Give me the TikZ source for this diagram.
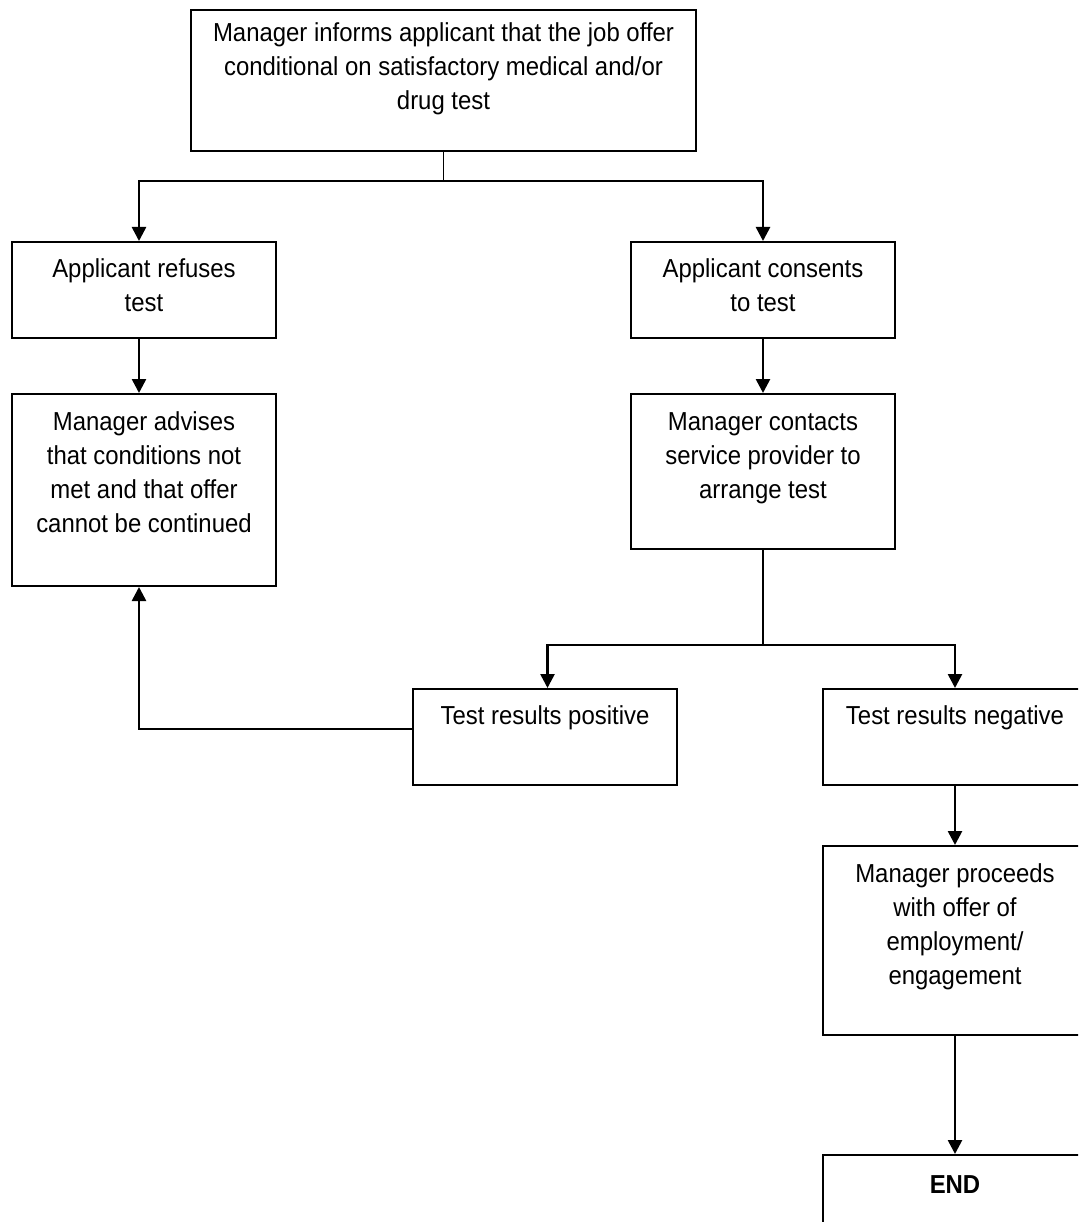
\documentclass[tikz,border=0pt]{standalone}
\usepackage{fontspec}
\setmainfont[FakeStretch=0.92]{Liberation Sans}
\usetikzlibrary{arrows.meta}
\begin{document}
\begin{tikzpicture}[x=1pt,y=-1pt]
\tikzset{
  box/.style={draw, line width=2pt, inner sep=0pt, anchor=north west, minimum width=264pt},
  txt/.style={inner sep=0pt, anchor=base, font=\fontsize{26}{34}\selectfont},
  arr/.style={line width=2.6pt, -{Triangle[length=14pt,width=14pt]}},
  stub/.style={line width=1.5pt},
  hline/.style={line width=2.6pt}
}
\useasboundingbox (0,0) rectangle (1078,1222);
\clip (0,0) rectangle (1078,1222);

% boxes
\node[box, minimum width=505pt, minimum height=141pt] (top) at (190,9) {};
\node[box, minimum height=96pt]  (refuses)  at (11,241) {};
\node[box, minimum height=192pt] (advises)  at (11,393) {};
\node[box, minimum height=96pt]  (consents) at (630,241) {};
\node[box, minimum height=155pt] (contacts) at (630,393) {};
\node[box, minimum height=96pt]  (positive) at (412,688) {};
\node[box, minimum height=96pt]  (negative) at (822,688) {};
\node[box, minimum height=189pt] (proceeds) at (822,845) {};
\node[box, minimum height=110pt] (endbox)   at (822,1154) {};

% texts
\node[txt] (ttop) at ([yshift=-33pt]top.north) {\parbox[t]{490pt}{\centering Manager informs applicant that the job offer\\ conditional on satisfactory medical and/or\\ drug test}};
\node[txt] (trefuses) at ([yshift=-37pt]refuses.north) {\parbox[t]{250pt}{\centering Applicant refuses\\ test}};
\node[txt] (tadvises) at ([yshift=-37pt]advises.north) {\parbox[t]{250pt}{\centering Manager advises\\ that conditions not\\ met and that offer\\ cannot be continued}};
\node[txt] (tconsents) at ([yshift=-37pt]consents.north) {\parbox[t]{250pt}{\centering Applicant consents\\ to test}};
\node[txt] (tcontacts) at ([yshift=-37pt]contacts.north) {\parbox[t]{250pt}{\centering Manager contacts\\ service provider to\\ arrange test}};
\node[txt] (tpositive) at ([yshift=-36pt]positive.north) {\parbox[t]{250pt}{\centering Test results positive}};
\node[txt] (tnegative) at ([yshift=-36pt]negative.north) {\parbox[t]{250pt}{\centering Test results negative}};
\node[txt] (tproceeds) at ([yshift=-37pt]proceeds.north) {\parbox[t]{250pt}{\centering Manager proceeds\\ with offer of\\ employment/\\ engagement}};
\node[txt] (tend) at ([yshift=-39pt]endbox.north) {\parbox[t]{250pt}{\centering\bfseries END}};

% connectors
\draw[stub] (top.south) -- ++(0,29) coordinate (j1);
\draw[hline] ([xshift=-5pt]refuses.north |- j1) -- (consents.north |- j1);
\draw[arr] (j1) -| ([xshift=-5pt]refuses.north);
\draw[arr] (j1) -| (consents.north);
\draw[arr] ([xshift=-5pt]refuses.south) -- ([xshift=-5pt]advises.north);
\draw[arr] (consents.south) -- (contacts.north);
\draw[stub] (contacts.south) -- ++(0,95) coordinate (j2);
\draw[hline] ([xshift=2.5pt]positive.north |- j2) -- (negative.north |- j2);
\draw[arr] (j2) -| ([xshift=2.5pt]positive.north);
\draw[arr] (j2) -| (negative.north);
\draw[arr] (negative.south) -- (proceeds.north);
\draw[arr] (proceeds.south) -- (endbox.north);
\draw[arr] ([yshift=8pt]positive.west) -| ([xshift=-5pt]advises.south);
\end{tikzpicture}
\end{document}
